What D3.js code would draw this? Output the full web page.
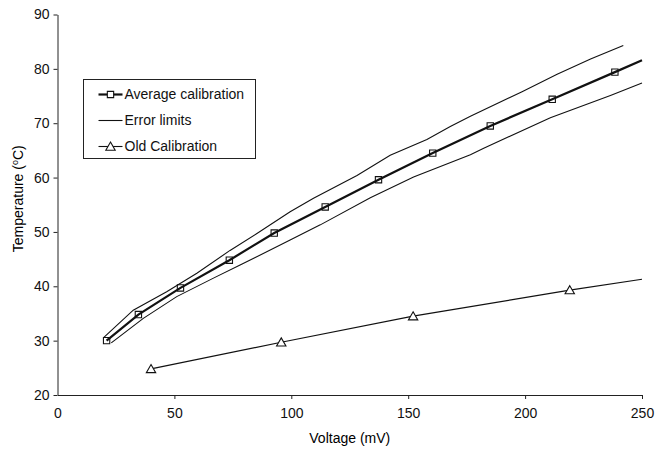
<!DOCTYPE html>
<html>
<head>
<meta charset="utf-8">
<script src="https://cdn.jsdelivr.net/npm/d3@7"></script>
<style>
  body { margin: 0; background: #fff; }
  svg { display: block; font-family: Arial, "Liberation Sans", sans-serif; }
</style>
</head>
<body>
<div id="chart"></div>
<script>
// Average calibration (markers)
const avgVolt = [21, 34.6, 52.6, 73.5, 92.7, 114.5, 137.3, 160.5, 185.1, 211.6, 238.4];
const avgTemp = [30, 34.8, 39.7, 44.8, 49.8, 54.6, 59.6, 64.5, 69.5, 74.4, 79.4];
// the average line runs on past the last marker
const avgTailVolt = [250];
const avgTailTemp = [81.6];

// Error limits
const upperVolt = [19.6, 32.4, 46.7, 59.6, 73.8, 85.3, 99.5, 109.5, 128.1, 142.3, 158.0, 168.0, 176.6, 198.7, 213.7, 228.0, 242.0];
const upperTemp = [30.5, 35.6, 39.0, 42.4, 46.6, 49.7, 53.7, 56.2, 60.4, 64.1, 67.0, 69.4, 71.3, 75.8, 79.0, 81.8, 84.3];
const lowerVolt = [23.0, 36.7, 51.0, 66.7, 78.1, 99.5, 112.4, 133.8, 152.3, 176.6, 182.3, 210.8, 236.5, 250];
const lowerTemp = [29.6, 34.1, 38.1, 41.5, 43.9, 48.5, 51.3, 56.3, 60.1, 64.2, 65.4, 71.0, 75.1, 77.4];

// Old calibration
const oldVolt = [40, 95.7, 152.1, 219.1];
const oldTemp = [24.8, 29.7, 34.5, 39.3];
const oldTailVolt = [250];
const oldTailTemp = [41.3];

const xTicks = [0, 50, 100, 150, 200, 250];
const yTicks = [20, 30, 40, 50, 60, 70, 80, 90];
const legendLabels = ["Average calibration", "Error limits", "Old Calibration"];

const width = 665, height = 454;
const margin = {top: 14.5, right: 23, bottom: 59, left: 57.5};

const svg = d3.select("#chart").append("svg")
  .attr("width", width)
  .attr("height", height);

const x = d3.scaleLinear().domain([0, 250]).range([margin.left, width - margin.right]);
const y = d3.scaleLinear().domain([20, 90]).range([height - margin.bottom, margin.top]);

const zip = (a, b) => a.map((v, i) => [v, b[i]]);

// Axes
const xAxis = svg.append("g")
  .attr("transform", `translate(0,${height - margin.bottom})`)
  .call(d3.axisBottom(x).tickValues(xTicks).tickSize(4).tickSizeOuter(0).tickPadding(9));
const yAxis = svg.append("g")
  .attr("transform", `translate(${margin.left},0)`)
  .call(d3.axisLeft(y).tickValues(yTicks).tickSize(4).tickSizeOuter(0).tickPadding(4));

[xAxis, yAxis].forEach(g => {
  g.selectAll("path, line").attr("stroke", "#222").attr("stroke-width", 1);
  g.selectAll("text").attr("fill", "#111").style("font-size", "14px").style("font-family", "Arial, 'Liberation Sans', sans-serif");
});
xAxis.selectAll(".tick").filter(d => d === 0).select("line").remove();

// Axis titles
svg.append("text")
  .attr("x", (x(0) + x(250)) / 2)
  .attr("y", 443)
  .attr("text-anchor", "middle")
  .style("font-size", "14px")
  .text("Voltage (mV)");

const yTitle = svg.append("text")
  .attr("transform", `translate(23,${(y(20) + y(90)) / 2 - 6}) rotate(-90)`)
  .attr("text-anchor", "middle")
  .style("font-size", "14px");
yTitle.append("tspan").text("Temperature (");
yTitle.append("tspan").attr("dy", -5).style("font-size", "9px").text("o");
yTitle.append("tspan").attr("dy", 5).text("C)");

// Lines
const line = d3.line().x(d => x(d[0])).y(d => y(d[1]));

svg.append("path")
  .datum(zip(upperVolt, upperTemp))
  .attr("fill", "none").attr("stroke", "#111").attr("stroke-width", 1.1)
  .attr("d", line);
svg.append("path")
  .datum(zip(lowerVolt, lowerTemp))
  .attr("fill", "none").attr("stroke", "#111").attr("stroke-width", 1.1)
  .attr("d", line);

svg.append("path")
  .datum(zip(avgVolt.concat(avgTailVolt), avgTemp.concat(avgTailTemp)))
  .attr("fill", "none").attr("stroke", "#111").attr("stroke-width", 2.2)
  .attr("d", line);

svg.append("path")
  .datum(zip(oldVolt.concat(oldTailVolt), oldTemp.concat(oldTailTemp)))
  .attr("fill", "none").attr("stroke", "#111").attr("stroke-width", 1.2)
  .attr("d", line);

// Markers
const sq = d3.symbol().type(d3.symbolSquare).size(40);
const tri = d3.symbol().type(d3.symbolTriangle).size(38);

svg.append("g").selectAll("path")
  .data(zip(avgVolt, avgTemp))
  .join("path")
    .attr("transform", d => `translate(${x(d[0])},${y(d[1])})`)
    .attr("d", sq)
    .attr("fill", "none").attr("stroke", "#111").attr("stroke-width", 1.1);

svg.append("g").selectAll("path")
  .data(zip(oldVolt, oldTemp))
  .join("path")
    .attr("transform", d => `translate(${x(d[0])},${y(d[1]) + 1})`)
    .attr("d", tri)
    .attr("fill", "#fff").attr("stroke", "#111").attr("stroke-width", 1.1);

// Legend
const legend = svg.append("g").attr("transform", "translate(83.5,79.5)");
legend.append("rect")
  .attr("width", 172).attr("height", 79)
  .attr("fill", "#fff").attr("stroke", "#222").attr("stroke-width", 1);

const rows = legend.selectAll("g.row")
  .data(legendLabels)
  .join("g")
    .attr("class", "row")
    .attr("transform", (d, i) => `translate(0,${15 + i * 26})`);

rows.append("line")
  .attr("x1", 15).attr("x2", 39)
  .attr("stroke", "#111")
  .attr("stroke-width", (d, i) => i === 0 ? 2.2 : 1.1);
rows.filter((d, i) => i === 0).append("path")
  .attr("transform", "translate(27,0)").attr("d", sq)
  .attr("fill", "#fff").attr("stroke", "#111").attr("stroke-width", 1.1);
rows.filter((d, i) => i === 2).append("path")
  .attr("transform", "translate(27,1)").attr("d", tri)
  .attr("fill", "#fff").attr("stroke", "#111").attr("stroke-width", 1.1);

rows.append("text")
  .attr("x", 41).attr("dy", "0.35em")
  .style("font-size", "14px")
  .attr("fill", "#111")
  .text(d => d);
</script>
</body>
</html>
